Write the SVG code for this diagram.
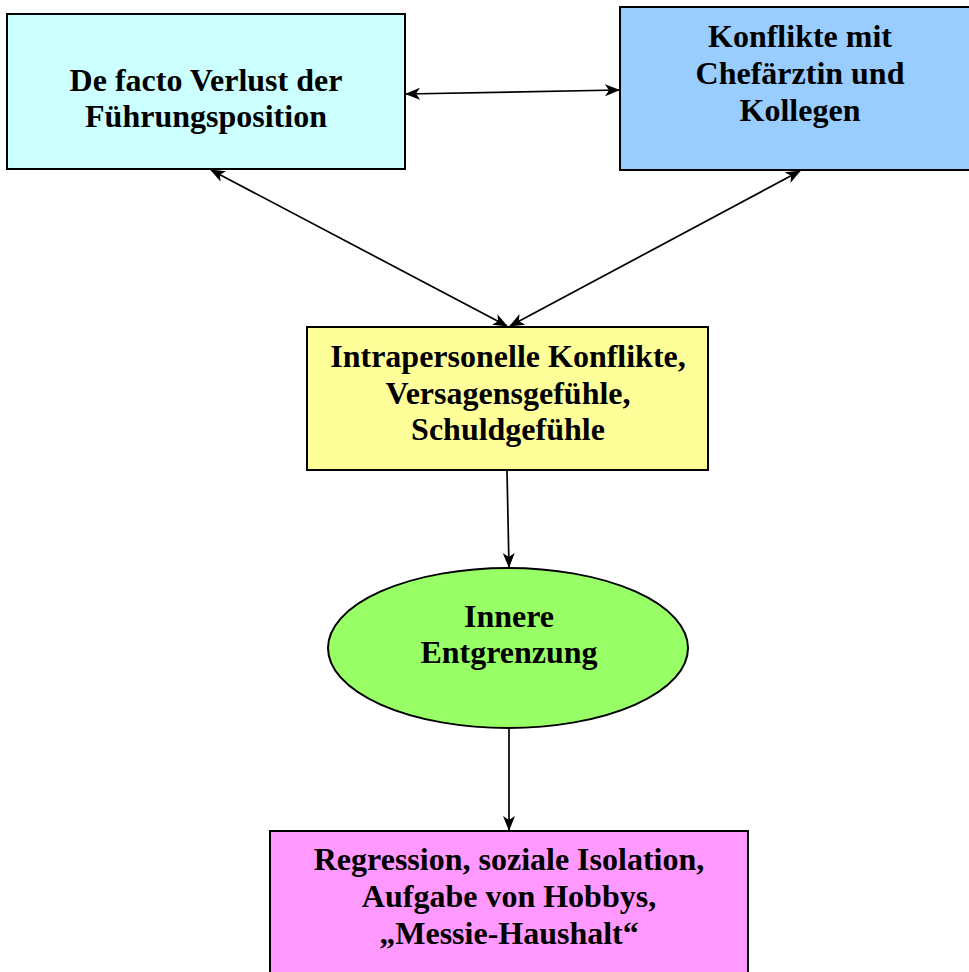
<svg xmlns="http://www.w3.org/2000/svg" width="969" height="972" viewBox="0 0 969 972">
<defs>
<marker id="ah" viewBox="0 0 15 12" refX="14" refY="6" markerWidth="15" markerHeight="12" markerUnits="userSpaceOnUse" orient="auto-start-reverse">
<path d="M0,0 L15,6 L0,12 L4,6 z" fill="#000"/>
</marker>
<style>
.box{stroke:#000;stroke-width:2}
.t{font-family:"Liberation Serif","Times New Roman",serif;font-weight:bold;font-size:32px;fill:#000;text-anchor:middle}
.c{stroke:#000;stroke-width:1.7;fill:none;marker-end:url(#ah)}
.d{marker-start:url(#ah)}
</style>
</defs>
<rect width="969" height="972" fill="#fff"/>
<g id="n1">
<rect class="box" x="7" y="14" width="398" height="155" fill="#CCFFFF"/>
<text class="t" x="206" y="91">De facto Verlust der</text>
<text class="t" x="206" y="127">Führungsposition</text>
</g>
<g id="n2">
<rect class="box" x="620" y="7" width="360" height="163" fill="#99CCFF"/>
<text class="t" x="800" y="47">Konflikte mit</text>
<text class="t" x="800" y="84">Chefärztin und</text>
<text class="t" x="800" y="121">Kollegen</text>
</g>
<g id="n3">
<rect class="box" x="307" y="327" width="401" height="143" fill="#FFFF99"/>
<text class="t" x="508" y="367">Intrapersonelle Konflikte,</text>
<text class="t" x="508" y="404">Versagensgefühle,</text>
<text class="t" x="508" y="440">Schuldgefühle</text>
</g>
<g id="n4">
<ellipse class="box" cx="508" cy="648" rx="180" ry="80" fill="#99FF66"/>
<text class="t" x="509" y="627">Innere</text>
<text class="t" x="509" y="663">Entgrenzung</text>
</g>
<g id="n5">
<rect class="box" x="270" y="831" width="478" height="150" fill="#FF99FF"/>
<text class="t" x="509" y="870">Regression, soziale Isolation,</text>
<text class="t" x="509" y="907">Aufgabe von Hobbys,</text>
<text class="t" x="509" y="944">„Messie-Haushalt“</text>
</g>
<g id="connectors">
<line class="c d" x1="406" y1="94" x2="619" y2="90"/>
<line class="c d" x1="211" y1="170" x2="507" y2="326"/>
<line class="c d" x1="800" y1="171" x2="510" y2="326"/>
<line class="c" x1="507" y1="471" x2="509" y2="567"/>
<line class="c" x1="509" y1="729" x2="509" y2="830"/>
</g>
</svg>
